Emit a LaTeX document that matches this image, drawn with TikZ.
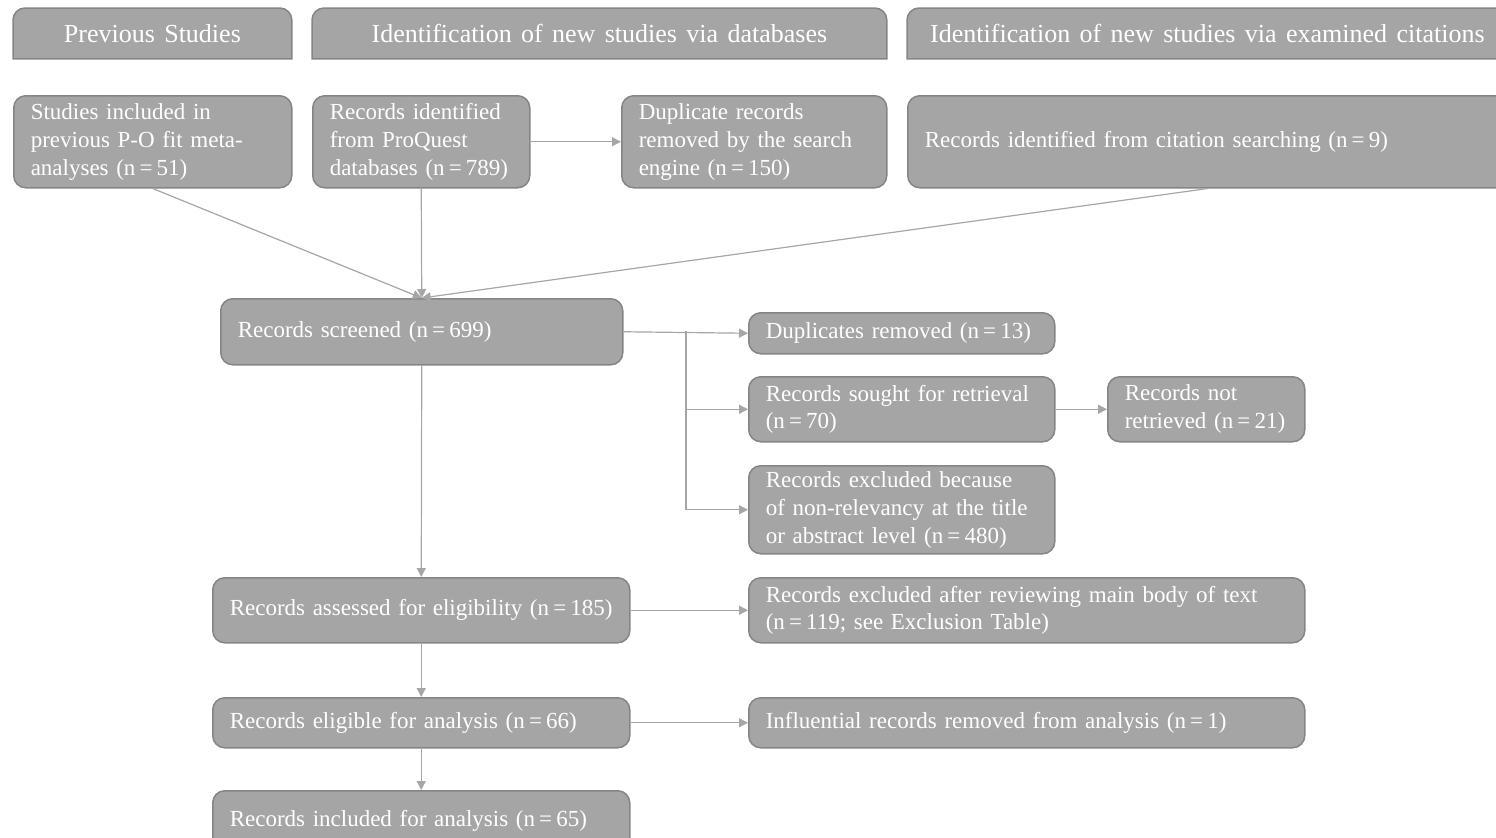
\documentclass[tikz,border=0pt]{standalone}
\usepackage{fontspec}
\setmainfont{Liberation Serif}
\usetikzlibrary{arrows.meta,backgrounds,calc}
\definecolor{boxfill}{HTML}{A5A5A5}
\definecolor{boxline}{HTML}{858585}
\definecolor{arrcol}{HTML}{A6A6A6}
\newcommand\boxfont{\fontsize{11.5}{13.9}\selectfont\setlength{\spaceskip}{0.31em}}
\newcommand\hdrfont{\fontsize{13}{15.6}\selectfont\setlength{\spaceskip}{0.36em}}
\newcommand\eq{\hspace{0.18em}=\hspace{0.18em}}
\begin{document}
\begin{tikzpicture}[x=0.5pt,y=-0.5pt,
  box/.style={draw=boxline, fill=boxfill, line width=0.75pt, rounded corners=6pt,
    anchor=north west, text=white, align=left, inner xsep=8.5pt, inner ysep=0pt,
    font=\boxfont},
  hdr/.style={anchor=north west, text=white, align=center, inner sep=0pt,
    font=\hdrfont},
  hdrbox/.style={fill=boxfill, draw=boxline, line width=0.75pt},
  arr/.style={draw=arrcol, line width=0.6pt, -{Triangle[length=4.5pt,width=4.5pt]}},
  ln/.style={draw=arrcol, line width=0.6pt}]
\path[use as bounding box] (0,0) rectangle (1496,837);
\clip (0,0) rectangle (1496,837);

% headers
\node[hdr, minimum width=139pt, minimum height=25pt] (h1) at (13,8) {Previous Studies};
\node[hdr, minimum width=287pt, minimum height=25pt] (h2) at (312,8) {Identification of new studies via databases};
\node[hdr, minimum width=300pt, minimum height=25pt] (h3) at (907,8) {Identification of new studies via examined citations};
\begin{scope}[on background layer]
\foreach \h in {h1,h2,h3}{
  \filldraw[hdrbox] (\h.south west) -- ($(\h.north west)+(0,-6pt)$)
    arc[start angle=180, end angle=90, radius=6pt]
    -- ($(\h.north east)+(-6pt,0)$)
    arc[start angle=90, end angle=0, radius=6pt]
    -- (\h.south east) -- cycle;
}
\end{scope}

% identification boxes
\node[box, text width=122pt, minimum height=46pt] (a) at (13,95)
  {Studies included in\\previous P-O fit meta-\\analyses (n\eq 51)};
\node[box, text width=91.5pt, minimum height=46pt] (b) at (312,95)
  {Records identified\\from ProQuest\\databases (n\eq 789)};
\node[box, text width=115.5pt, minimum height=46pt] (c) at (621,95)
  {Duplicate records\\removed by the search\\engine (n\eq 150)};
\node[box, text width=283pt, minimum height=46pt] (d) at (907,95)
  {Records identified from citation searching (n\eq 9)};

% screening
\node[box, text width=184pt, minimum height=33pt] (e) at (220,298) {Records screened (n\eq 699)};
\node[box, text width=136pt, minimum height=20.5pt] (f) at (748,312) {Duplicates removed (n\eq 13)};
\node[box, text width=136pt, minimum height=32.5pt] (g) at (748,376) {Records sought for retrieval\\(n\eq 70)};
\node[box, text width=81.5pt, minimum height=32.5pt] (h) at (1107,376) {Records not\\retrieved (n\eq 21)};
\node[box, text width=136pt, minimum height=44pt] (i) at (748,465)
  {Records excluded because\\of non-relevancy at the title\\or abstract level (n\eq 480)};

% eligibility
\node[box, text width=191.5pt, minimum height=32.5pt] (j) at (212,577) {Records assessed for eligibility (n\eq 185)};
\node[box, text width=261pt, minimum height=32.5pt] (k) at (748,577)
  {Records excluded after reviewing main body of text\\(n\eq 119; see Exclusion Table)};
\node[box, text width=191.5pt, minimum height=25pt] (l) at (212,697) {Records eligible for analysis (n\eq 66)};
\node[box, text width=261pt, minimum height=25pt] (m) at (748,697) {Influential records removed from analysis (n\eq 1)};
\node[box, text width=191.5pt, minimum height=30pt] (n) at (212,790) {Records included for analysis (n\eq 65)};

% connectors
\draw[arr] (a.south) -- (e.north);
\draw[arr] (b.south) -- (e.north);
\draw[arr] (d.south) -- (e.north);
\draw[arr] (b.east) -- (c.west);
\coordinate (br) at (686,331);
\draw[arr] (e.east) -- (f.west);
\draw[ln] (br) -- (br |- i.west);
\draw[arr] (br |- g.west) -- (g.west);
\draw[arr] (br |- i.west) -- (i.west);
\draw[arr] (g.east) -- (h.west);
\draw[arr] (e.south) -- (j.north);
\draw[arr] (j.east) -- (k.west);
\draw[arr] (j.south) -- (l.north);
\draw[arr] (l.east) -- (m.west);
\draw[arr] (l.south) -- (n.north);
\end{tikzpicture}
\end{document}
